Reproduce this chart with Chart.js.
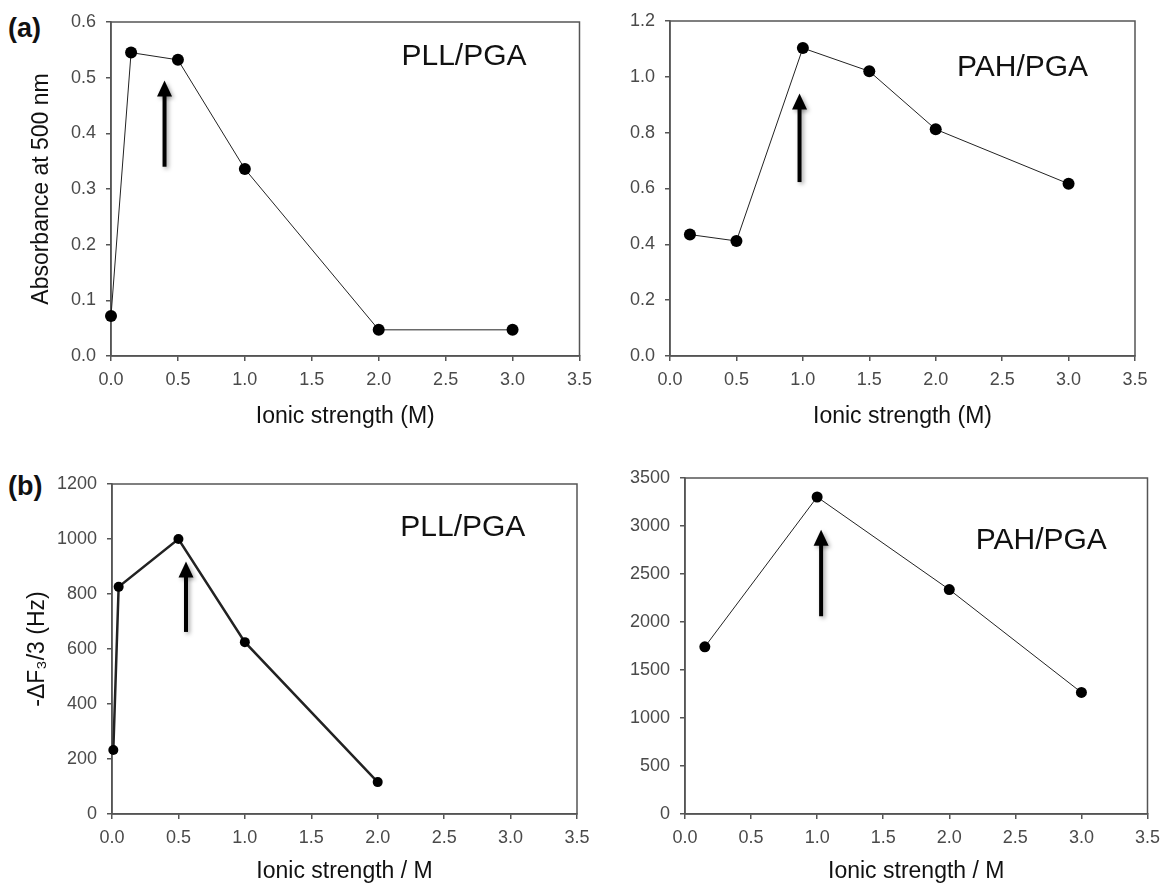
<!DOCTYPE html>
<html>
<head>
<meta charset="utf-8">
<script src="https://cdn.jsdelivr.net/npm/chart.js@4.4.1/dist/chart.umd.min.js"></script>
<style>
  body { margin: 0; background: #fff; width: 1168px; height: 885px; position: relative; overflow: hidden; }
  canvas { position: absolute; }
  .tag { position: absolute; font: bold 27px "Liberation Sans", Arial, sans-serif; color: #111; line-height: 1; }
</style>
</head>
<body>
<div class="tag" style="left:8px; top:15px;">(a)</div>
<div class="tag" style="left:8px; top:473px;">(b)</div>
<canvas id="c1" width="600" height="440" style="left:0; top:0;"></canvas>
<canvas id="c2" width="588" height="440" style="left:580px; top:0;"></canvas>
<canvas id="c3" width="600" height="445" style="left:0; top:440px;"></canvas>
<canvas id="c4" width="588" height="445" style="left:580px; top:440px;"></canvas>
<script>
const pllAbsX = [0, 0.15, 0.5, 1.0, 2.0, 3.0];
const pllAbsY = [0.072, 0.545, 0.532, 0.336, 0.047, 0.047];
const pahAbsX = [0.15, 0.5, 1.0, 1.5, 2.0, 3.0];
const pahAbsY = [0.435, 0.412, 1.103, 1.02, 0.812, 0.617];
const pllQcmX = [0.01, 0.05, 0.5, 1.0, 2.0];
const pllQcmY = [233, 826, 1000, 625, 116];
const pahQcmX = [0.15, 1.0, 2.0, 3.0];
const pahQcmY = [1741, 3302, 2338, 1266];

const xTicks = { min: 0, max: 3.5, step: 0.5 };
const absTicks = { min: 0, max: 0.6, step: 0.1 };
const pahAbsTicks = { min: 0, max: 1.2, step: 0.2 };
const pllQcmTicks = { min: 0, max: 1200, step: 200 };
const pahQcmTicks = { min: 0, max: 3500, step: 500 };

const FONT = '"Liberation Sans", Arial, sans-serif';

const frameAndNotes = {
  id: 'notes',
  beforeDatasetsDraw(chart) {
    const { ctx, chartArea: a } = chart;
    ctx.save();
    ctx.strokeStyle = '#555';
    ctx.lineWidth = 1.5;
    ctx.strokeRect(a.left, a.top, a.width, a.height);
    ctx.restore();
  },
  afterDatasetsDraw(chart, args, o) {
    const { ctx, scales: { x, y } } = chart;
    ctx.save();
    ctx.font = '30px ' + FONT;
    ctx.fillStyle = '#111';
    ctx.textAlign = 'left';
    ctx.textBaseline = 'middle';
    ctx.fillText(o.label, x.getPixelForValue(o.labelX), y.getPixelForValue(o.labelY));

    // arrow pointing up
    const ax = x.getPixelForValue(o.arrowX);
    const y0 = y.getPixelForValue(o.arrowFrom);
    const y1 = y.getPixelForValue(o.arrowTo);
    ctx.shadowColor = 'rgba(0,0,0,0.35)';
    ctx.shadowBlur = 4;
    ctx.shadowOffsetX = 2;
    ctx.shadowOffsetY = 2;
    ctx.strokeStyle = '#000';
    ctx.fillStyle = '#000';
    ctx.lineWidth = 4;
    ctx.beginPath();
    ctx.moveTo(ax, y0);
    ctx.lineTo(ax, y1 + 12);
    ctx.stroke();
    ctx.beginPath();
    ctx.moveTo(ax, y1);
    ctx.lineTo(ax - 7.5, y1 + 16);
    ctx.lineTo(ax + 7.5, y1 + 16);
    ctx.closePath();
    ctx.fill();
    ctx.restore();
  }
};

function makeChart(id, xs, ys, yt, box, look, notes) {
  const pts = xs.map((v, i) => ({ x: v, y: ys[i] }));
  return new Chart(document.getElementById(id), {
    type: 'scatter',
    data: {
      datasets: [{
        data: pts,
        showLine: true,
        borderColor: '#222',
        borderWidth: look.line,
        pointRadius: look.r,
        pointBackgroundColor: '#000',
        pointBorderColor: '#000',
        pointBorderWidth: 0,
        clip: false
      }]
    },
    options: {
      responsive: false,
      animation: false,
      events: [],
      layout: { padding: { left: 0, top: box.top, right: box.right, bottom: 0 } },
      plugins: { legend: { display: false }, tooltip: { enabled: false }, notes: notes },
      scales: {
        x: {
          type: 'linear',
          min: xTicks.min, max: xTicks.max,
          afterFit: s => { s.height = box.xh; },
          ticks: { stepSize: xTicks.step, color: '#4a4a4a', padding: 8, font: { family: FONT, size: 18 },
                   callback: v => v.toFixed(1), maxRotation: 0, autoSkip: false },
          grid: { drawOnChartArea: false, tickLength: 5, color: '#555', lineWidth: 1.5 },
          border: { color: '#555', width: 1.5 },
          title: { display: true, text: box.xTitle, color: '#111', font: { family: FONT, size: 23 },
                   padding: { top: 0, bottom: box.xtPad } }
        },
        y: {
          min: yt.min, max: yt.max,
          afterFit: s => { s.width = box.yw; },
          ticks: { stepSize: yt.step, color: '#4a4a4a', padding: 10, font: { family: FONT, size: 18 },
                   callback: v => yt.step < 1 ? v.toFixed(1) : Math.round(v).toString() },
          grid: { drawOnChartArea: false, tickLength: 5, color: '#555', lineWidth: 1.5 },
          border: { color: '#555', width: 1.5 },
          title: { display: !!box.yTitle, text: box.yTitle, color: '#111', font: { family: FONT, size: 23 },
                   padding: { top: box.ytPad, bottom: 0 } }
        }
      }
    },
    plugins: [frameAndNotes]
  });
}

makeChart('c1', pllAbsX, pllAbsY, absTicks,
  { top: 22, right: 20, xh: 84, yw: 111, xTitle: 'Ionic strength (M)', xtPad: 10, yTitle: 'Absorbance at 500 nm', ytPad: 28 },
  { line: 1, r: 6 },
  { label: 'PLL/PGA', labelX: 2.17, labelY: 0.537, arrowX: 0.40, arrowFrom: 0.34, arrowTo: 0.495 });

makeChart('c2', pahAbsX, pahAbsY, pahAbsTicks,
  { top: 21, right: 33, xh: 84, yw: 90, xTitle: 'Ionic strength (M)', xtPad: 10, yTitle: '', ytPad: 0 },
  { line: 1, r: 6 },
  { label: 'PAH/PGA', labelX: 2.16, labelY: 1.033, arrowX: 0.975, arrowFrom: 0.623, arrowTo: 0.94 });

makeChart('c3', pllQcmX, pllQcmY, pllQcmTicks,
  { top: 44, right: 23, xh: 71, yw: 112, xTitle: 'Ionic strength / M', xtPad: 0, yTitle: '-\u0394F\u2083/3 (Hz)', ytPad: 24 },
  { line: 2.5, r: 5 },
  { label: 'PLL/PGA', labelX: 2.17, labelY: 1042, arrowX: 0.557, arrowFrom: 662, arrowTo: 918 });

makeChart('c4', pahQcmX, pahQcmY, pahQcmTicks,
  { top: 38, right: 16, xh: 71, yw: 105, xTitle: 'Ionic strength / M', xtPad: 0, yTitle: '', ytPad: 0 },
  { line: 1, r: 5.5 },
  { label: 'PAH/PGA', labelX: 2.2, labelY: 2851, arrowX: 1.03, arrowFrom: 2060, arrowTo: 2962 });
</script>
</body>
</html>
